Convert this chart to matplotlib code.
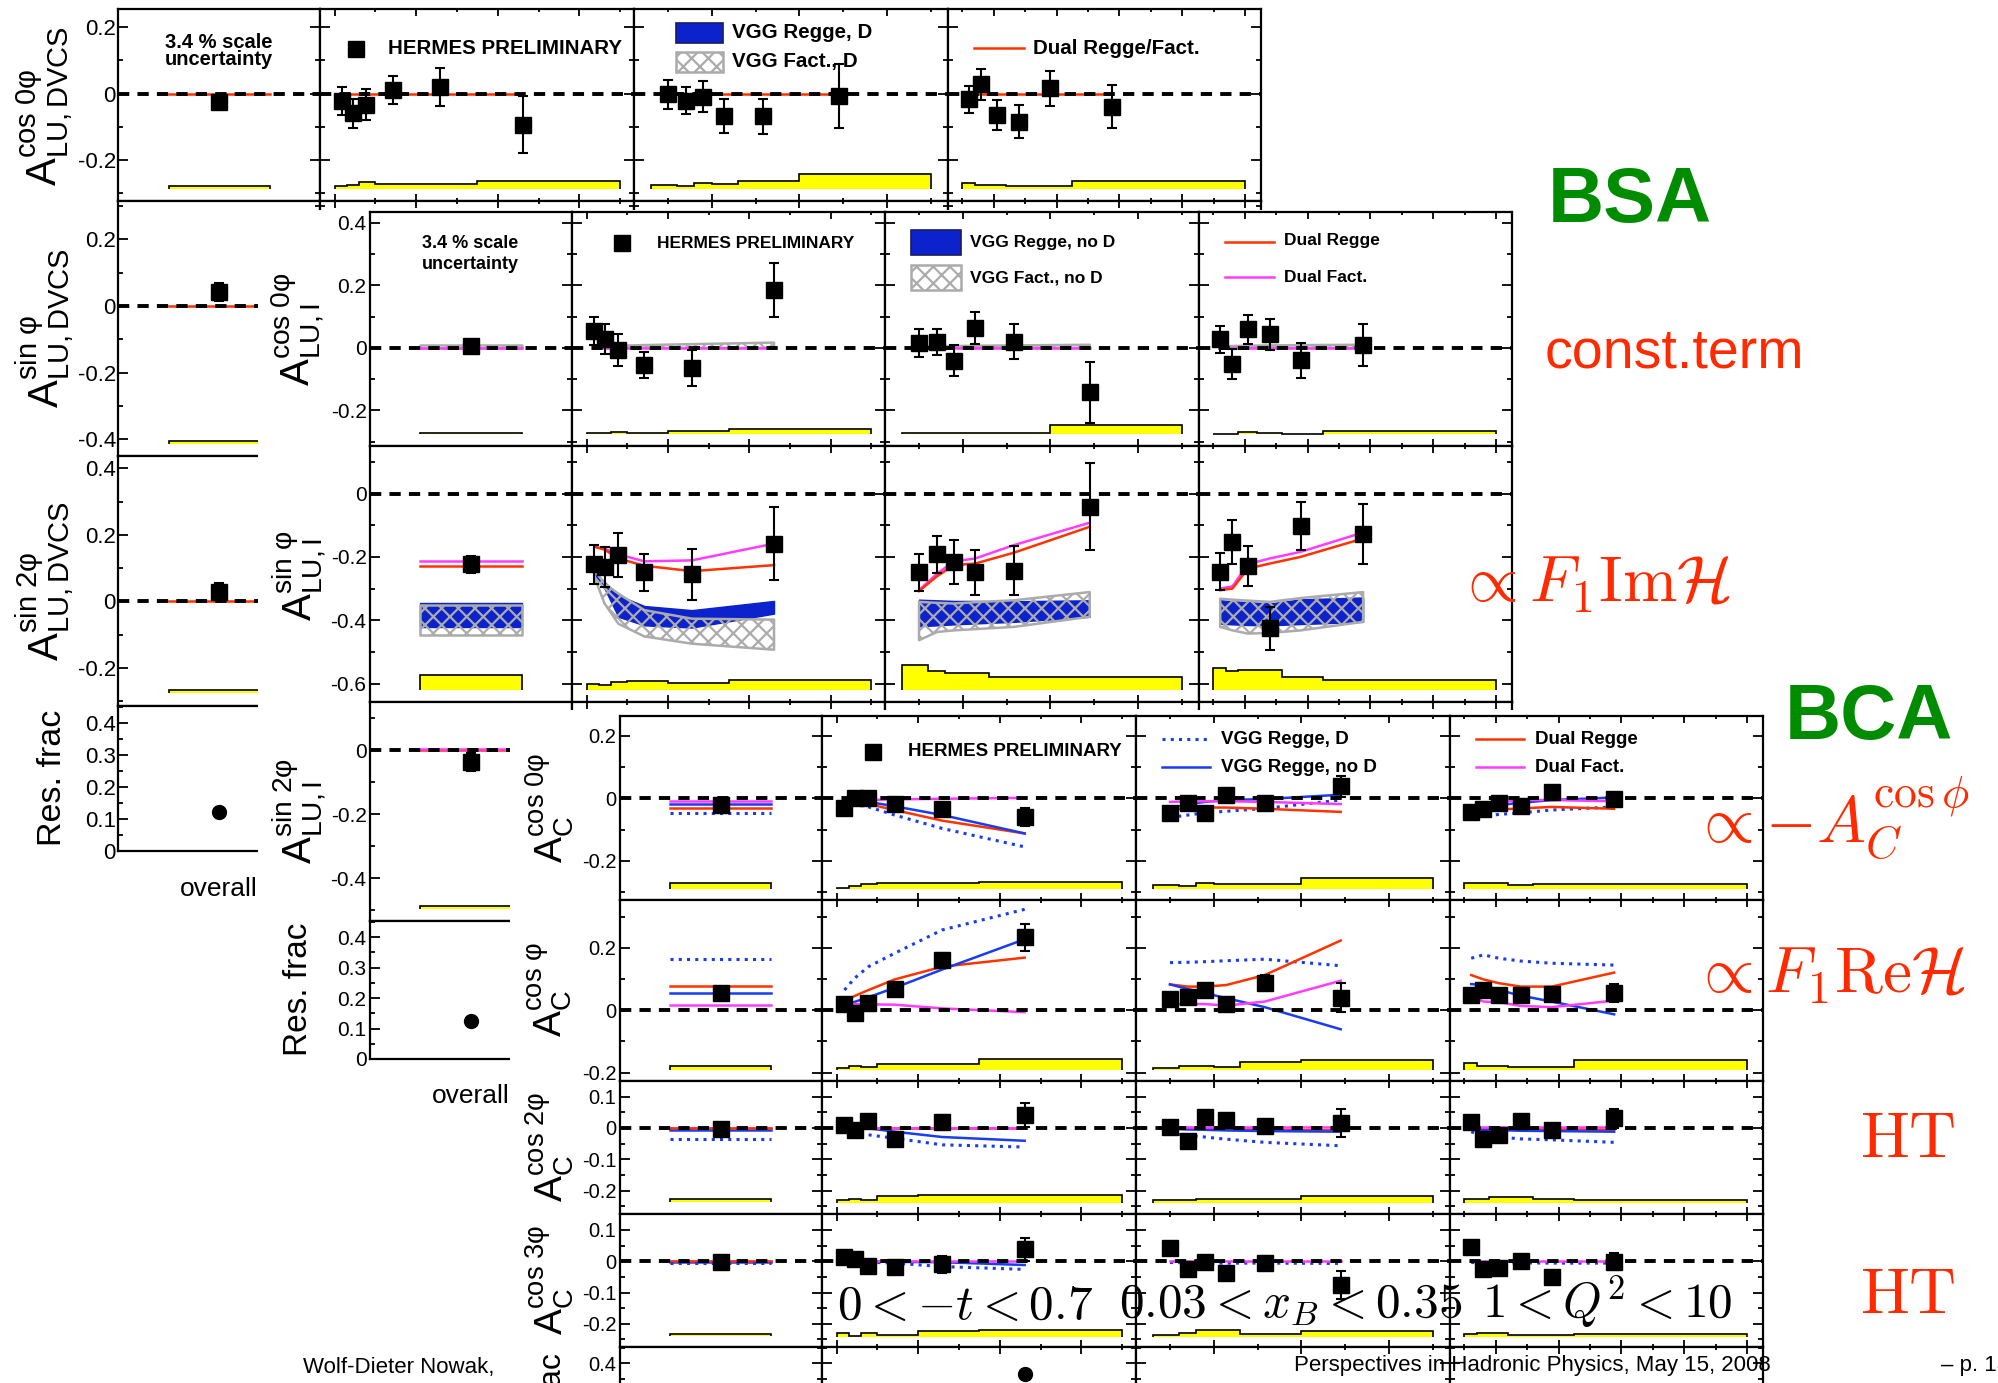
#!/usr/bin/env python3
"""
HERMES DVCS asymmetry amplitudes (BSA: A_LU,DVCS / A_LU,I ; BCA: A_C)
vs -t, x_B, Q^2 with model curves, drawn as three overlapping panel groups.
"""

import matplotlib
matplotlib.use("Agg")
import matplotlib.pyplot as plt
from matplotlib.patches import Rectangle
from matplotlib.lines import Line2D
from matplotlib.ticker import MultipleLocator, FuncFormatter

W, H = 1999, 1383

# ---------------- kinematic binning ----------------
T_EDGES = [0.0, 0.03, 0.06, 0.10, 0.20, 0.35, 0.70]
XB_EDGES = [0.03, 0.06, 0.08, 0.10, 0.13, 0.20, 0.35]
Q2_EDGES = [1.0, 1.4, 1.8, 2.4, 3.2, 4.5, 10.0]
T_X = [0.019, 0.044, 0.078, 0.142, 0.259, 0.461]
XB_X = [0.0497, 0.0703, 0.0897, 0.114, 0.158, 0.245]
Q2_X = [1.22, 1.61, 2.10, 2.80, 3.78, 5.77]

# ---------------- A_LU,DVCS (group 1) ----------------
LUD0_OVR = [-0.024, 0.020]          # value, stat. error
LUD0_OVR_SYS = [-0.286, -0.279]     # band bottom, top
LUD0_OVR_DUAL = -0.001
LUD0_T = [-0.022, -0.059, -0.033, 0.011, 0.019, -0.094]
LUD0_T_ERR = [0.043, 0.044, 0.047, 0.042, 0.057, 0.086]
LUD0_T_SYS = [-0.279, -0.274, -0.267, -0.272, -0.272, -0.264]
LUD0_T_DUAL = [-0.001, -0.001, -0.001, -0.001, -0.001, -0.001]
LUD0_XB = [-0.002, -0.022, -0.009, -0.067, -0.069, -0.007]
LUD0_XB_ERR = [0.044, 0.041, 0.048, 0.051, 0.054, 0.096]
LUD0_XB_SYS = [-0.276, -0.279, -0.268, -0.272, -0.262, -0.241]
LUD0_XB_DUAL = [-0.001, -0.001, -0.001, -0.001, -0.001, -0.001]
LUD0_Q2 = [-0.017, 0.028, -0.064, -0.085, 0.016, -0.040]
LUD0_Q2_ERR = [0.041, 0.046, 0.045, 0.049, 0.053, 0.065]
LUD0_Q2_SYS = [-0.269, -0.274, -0.276, -0.279, -0.279, -0.264]
LUD0_Q2_DUAL = [-0.001, -0.001, -0.001, -0.001, -0.001, -0.001]
LUD0_SYS_BASE = -0.287

LUD1_OVR = [0.042, 0.028]
LUD1_OVR_SYS = [-0.415, -0.405]
LUD1_OVR_DUAL = 0.0
LUD2_OVR = [0.029, 0.026]
LUD2_OVR_SYS = [-0.275, -0.266]
LUD2_OVR_DUAL = 0.0
LUD_RESFRAC = 0.121

# ---------------- A_LU,I (group 2) ----------------
LUI0_OVR = [0.006, 0.018]
LUI0_OVR_SYS = [-0.275, -0.272]
LUI0_OVR_FACT = 0.0
LUI0_OVR_GRAY = [0.0, 0.008]
LUI0_T = [0.054, 0.028, -0.007, -0.055, -0.065, 0.186]
LUI0_T_ERR = [0.046, 0.047, 0.050, 0.042, 0.058, 0.086]
LUI0_T_SYS = [-0.272, -0.271, -0.270, -0.271, -0.266, -0.260]
LUI0_T_FACT = [0.0, 0.0, 0.0, 0.0, 0.0, 0.0]
LUI0_T_GRAY_HI = [0.005, 0.006, 0.007, 0.009, 0.012, 0.017]
LUI0_XB = [0.015, 0.020, -0.041, 0.065, 0.020, -0.142]
LUI0_XB_ERR = [0.044, 0.042, 0.049, 0.051, 0.056, 0.098]
LUI0_XB_SYS = [-0.273, -0.273, -0.272, -0.272, -0.272, -0.248]
LUI0_XB_FACT = [0.0, 0.0, 0.0, 0.0, 0.0, 0.0]
LUI0_XB_GRAY_HI = [0.005, 0.006, 0.006, 0.007, 0.008, 0.010]
LUI0_Q2 = [0.027, -0.051, 0.059, 0.043, -0.040, 0.009]
LUI0_Q2_ERR = [0.042, 0.047, 0.045, 0.051, 0.055, 0.066]
LUI0_Q2_SYS = [-0.276, -0.276, -0.269, -0.273, -0.276, -0.265]
LUI0_Q2_FACT = [0.0, 0.0, 0.0, 0.0, 0.0, 0.0]
LUI0_Q2_GRAY_HI = [0.005, 0.006, 0.007, 0.008, 0.009, 0.010]
LUI0_GRAY_LO = [0.0, 0.0, 0.0, 0.0, 0.0, 0.0]
LUI0_SYS_BASE = -0.276

LUI1_OVR = [-0.224, 0.028]
LUI1_OVR_SYS = [-0.621, -0.573]
LUI1_OVR_FACT = -0.213
LUI1_OVR_REGGE = -0.229
LUI1_OVR_BLUE = [-0.421, -0.347]
LUI1_OVR_GRAY = [-0.446, -0.352]
LUI1_T = [-0.224, -0.232, -0.195, -0.249, -0.255, -0.158]
LUI1_T_ERR = [0.062, 0.063, 0.069, 0.058, 0.081, 0.115]
LUI1_T_SYS = [-0.600, -0.603, -0.595, -0.592, -0.598, -0.587]
LUI1_T_FACT = [-0.168, -0.174, -0.192, -0.214, -0.211, -0.158]
LUI1_T_REGGE = [-0.168, -0.177, -0.205, -0.228, -0.245, -0.226]
LUI1_T_BLUE_HI = [-0.247, -0.279, -0.321, -0.355, -0.368, -0.339]
LUI1_T_BLUE_LO = [-0.253, -0.300, -0.389, -0.416, -0.423, -0.379]
LUI1_T_GRAY_HI = [-0.242, -0.284, -0.316, -0.368, -0.395, -0.398]
LUI1_T_GRAY_LO = [-0.263, -0.347, -0.411, -0.451, -0.474, -0.493]
LUI1_XB = [-0.249, -0.192, -0.216, -0.249, -0.244, -0.042]
LUI1_XB_ERR = [0.059, 0.058, 0.069, 0.071, 0.077, 0.137]
LUI1_XB_SYS = [-0.542, -0.560, -0.568, -0.568, -0.579, -0.579]
LUI1_XB_FACT = [-0.305, -0.253, -0.214, -0.205, -0.163, -0.092]
LUI1_XB_REGGE = [-0.308, -0.261, -0.226, -0.221, -0.187, -0.105]
LUI1_XB_BLUE_HI = [-0.335, -0.337, -0.339, -0.339, -0.340, -0.337]
LUI1_XB_BLUE_LO = [-0.419, -0.416, -0.413, -0.410, -0.405, -0.389]
LUI1_XB_GRAY_HI = [-0.342, -0.345, -0.347, -0.343, -0.337, -0.311]
LUI1_XB_GRAY_LO = [-0.463, -0.437, -0.432, -0.428, -0.421, -0.389]
LUI1_Q2 = [-0.247, -0.153, -0.229, -0.426, -0.103, -0.129]
LUI1_Q2_ERR = [0.059, 0.068, 0.064, 0.069, 0.075, 0.095]
LUI1_Q2_SYS = [-0.550, -0.560, -0.558, -0.556, -0.578, -0.589]
LUI1_Q2_FACT = [-0.300, -0.293, -0.223, -0.205, -0.184, -0.123]
LUI1_Q2_REGGE = [-0.305, -0.300, -0.237, -0.221, -0.200, -0.142]
LUI1_Q2_BLUE_HI = [-0.337, -0.340, -0.343, -0.347, -0.334, -0.328]
LUI1_Q2_BLUE_LO = [-0.411, -0.413, -0.415, -0.416, -0.412, -0.405]
LUI1_Q2_GRAY_HI = [-0.332, -0.335, -0.338, -0.342, -0.330, -0.311]
LUI1_Q2_GRAY_LO = [-0.421, -0.432, -0.442, -0.440, -0.432, -0.405]
LUI1_SYS_BASE = -0.619

LUI2_OVR = [-0.037, 0.027]
LUI2_OVR_SYS = [-0.496, -0.486]
LUI2_OVR_FACT = 0.003
LUI2_OVR_REGGE = 0.0
LUI_RESFRAC = 0.124

# ---------------- A_C (group 3) ----------------
C0_OVR = [-0.021, 0.012]
C0_OVR_SYS = [-0.290, -0.272]
C0_OVR_MODELS = [-0.007, -0.018, -0.032, -0.046]   # fact, vgg no D, regge, vgg D
C0_T = [-0.030, 0.002, 0.003, -0.019, -0.034, -0.059]
C0_T_ERR = [0.014, 0.014, 0.015, 0.014, 0.016, 0.028]
C0_T_SYS = [-0.285, -0.279, -0.275, -0.270, -0.270, -0.266]
C0_T_FACT = [-0.008, -0.006, -0.005, -0.003, -0.001, 0.002]
C0_T_REGGE = [-0.014, -0.009, -0.018, -0.037, -0.071, -0.112]
C0_T_VGGND = [-0.011, -0.005, -0.011, -0.025, -0.053, -0.112]
C0_T_VGGD = [-0.005, -0.011, -0.027, -0.053, -0.096, -0.155]
C0_XB = [-0.045, -0.016, -0.048, 0.011, -0.013, 0.039]
C0_XB_ERR = [0.014, 0.014, 0.015, 0.016, 0.016, 0.033]
C0_XB_SYS = [-0.278, -0.279, -0.272, -0.273, -0.273, -0.256]
C0_XB_FACT = [-0.011, -0.009, -0.009, -0.009, -0.011, -0.018]
C0_XB_REGGE = [-0.037, -0.032, -0.029, -0.029, -0.033, -0.043]
C0_XB_VGGND = [-0.032, -0.018, -0.011, -0.005, -0.002, 0.012]
C0_XB_VGGD = [-0.061, -0.053, -0.046, -0.041, -0.032, -0.005]
C0_Q2 = [-0.043, -0.034, -0.014, -0.025, 0.021, -0.002]
C0_Q2_ERR = [0.014, 0.014, 0.014, 0.015, 0.016, 0.020]
C0_Q2_SYS = [-0.270, -0.270, -0.271, -0.277, -0.275, -0.274]
C0_Q2_FACT = [-0.027, -0.016, -0.011, -0.005, -0.005, -0.009]
C0_Q2_REGGE = [-0.053, -0.043, -0.035, -0.032, -0.027, -0.033]
C0_Q2_VGGND = [-0.046, -0.029, -0.021, -0.014, -0.005, 0.003]
C0_Q2_VGGD = [-0.059, -0.057, -0.051, -0.046, -0.037, -0.027]
C0_SYS_BASE = -0.291

C1_OVR = [0.055, 0.012]
C1_OVR_SYS = [-0.191, -0.178]
C1_OVR_MODELS = [0.017, 0.055, 0.079, 0.166]
C1_T = [0.020, -0.010, 0.022, 0.067, 0.161, 0.234]
C1_T_ERR = [0.015, 0.015, 0.016, 0.017, 0.023, 0.044]
C1_T_SYS = [-0.184, -0.179, -0.181, -0.174, -0.174, -0.156]
C1_T_FACT = [0.020, 0.020, 0.019, 0.018, 0.006, -0.006]
C1_T_REGGE = [0.028, 0.046, 0.065, 0.099, 0.140, 0.169]
C1_T_VGGND = [0.017, 0.027, 0.042, 0.072, 0.131, 0.228]
C1_T_VGGD = [0.065, 0.103, 0.140, 0.183, 0.258, 0.324]
C1_XB = [0.035, 0.044, 0.065, 0.020, 0.089, 0.041]
C1_XB_ERR = [0.015, 0.015, 0.016, 0.017, 0.024, 0.045]
C1_XB_SYS = [-0.184, -0.179, -0.178, -0.181, -0.165, -0.160]
C1_XB_FACT = [0.020, 0.020, 0.020, 0.015, 0.028, 0.095]
C1_XB_REGGE = [0.083, 0.076, 0.076, 0.081, 0.113, 0.224]
C1_XB_VGGND = [0.083, 0.068, 0.055, 0.039, 0.010, -0.061]
C1_XB_VGGD = [0.153, 0.154, 0.156, 0.159, 0.164, 0.143]
C1_Q2 = [0.049, 0.065, 0.049, 0.049, 0.051, 0.055]
C1_Q2_ERR = [0.015, 0.016, 0.016, 0.017, 0.018, 0.030]
C1_Q2_SYS = [-0.169, -0.178, -0.180, -0.181, -0.181, -0.160]
C1_Q2_FACT = [0.044, 0.028, 0.026, 0.014, 0.010, 0.031]
C1_Q2_REGGE = [0.113, 0.099, 0.087, 0.076, 0.076, 0.121]
C1_Q2_VGGND = [0.084, 0.081, 0.065, 0.047, 0.028, -0.013]
C1_Q2_VGGD = [0.167, 0.178, 0.167, 0.158, 0.151, 0.145]
C1_SYS_BASE = -0.191

C2_OVR = [-0.003, 0.012]
C2_OVR_SYS = [-0.238, -0.227]
C2_OVR_MODELS = [0.001, -0.007, 0.0, -0.035]
C2_T = [0.009, -0.006, 0.022, -0.036, 0.020, 0.041]
C2_T_ERR = [0.014, 0.014, 0.016, 0.016, 0.020, 0.038]
C2_T_SYS = [-0.229, -0.227, -0.231, -0.217, -0.215, -0.215]
C2_T_FACT = [0.001, 0.001, 0.001, 0.001, 0.001, 0.001]
C2_T_REGGE = [0.0, 0.0, 0.0, 0.0, 0.0, 0.0]
C2_T_VGGND = [0.001, 0.0, -0.001, -0.012, -0.029, -0.041]
C2_T_VGGD = [-0.005, -0.012, -0.022, -0.033, -0.054, -0.061]
C2_XB = [0.004, -0.043, 0.034, 0.025, 0.006, 0.015]
C2_XB_ERR = [0.015, 0.015, 0.016, 0.017, 0.020, 0.045]
C2_XB_SYS = [-0.229, -0.231, -0.227, -0.227, -0.227, -0.217]
C2_XB_FACT = [0.002, 0.002, 0.002, 0.002, 0.002, 0.002]
C2_XB_REGGE = [0.001, 0.0, -0.002, -0.004, -0.006, -0.008]
C2_XB_VGGND = [-0.003, -0.005, -0.006, -0.008, -0.010, -0.012]
C2_XB_VGGD = [-0.017, -0.024, -0.029, -0.036, -0.046, -0.057]
C2_Q2 = [0.018, -0.036, -0.022, 0.022, -0.008, 0.031]
C2_Q2_ERR = [0.015, 0.016, 0.016, 0.017, 0.018, 0.030]
C2_Q2_SYS = [-0.227, -0.227, -0.222, -0.222, -0.227, -0.229]
C2_Q2_FACT = [0.002, 0.002, 0.002, 0.002, 0.002, 0.002]
C2_Q2_REGGE = [0.0, -0.001, -0.002, -0.003, -0.004, -0.006]
C2_Q2_VGGND = [-0.004, -0.006, -0.007, -0.009, -0.010, -0.012]
C2_Q2_VGGD = [-0.012, -0.025, -0.029, -0.035, -0.038, -0.046]
C2_SYS_BASE = -0.239

C3_OVR = [-0.003, 0.012]
C3_OVR_SYS = [-0.240, -0.232]
C3_OVR_MODELS = [0.001, -0.002, 0.0, -0.006]
C3_T = [0.012, 0.006, -0.015, -0.019, -0.009, 0.038]
C3_T_ERR = [0.014, 0.014, 0.016, 0.016, 0.027, 0.036]
C3_T_SYS = [-0.228, -0.238, -0.230, -0.236, -0.224, -0.219]
C3_T_FACT = [0.001, 0.001, 0.001, 0.001, 0.001, 0.001]
C3_T_VGGND = [0.0, 0.0, -0.001, -0.002, -0.003, -0.012]
C3_T_VGGD = [0.0, -0.001, -0.003, -0.006, -0.017, -0.026]
C3_XB = [0.041, -0.026, -0.001, -0.036, -0.004, -0.076]
C3_XB_ERR = [0.015, 0.015, 0.016, 0.017, 0.020, 0.045]
C3_XB_SYS = [-0.236, -0.230, -0.219, -0.219, -0.232, -0.224]
C3_XB_FACT = [0.001, 0.001, 0.001, 0.001, 0.001, 0.001]
C3_XB_VGGD = [-0.004, -0.005, -0.006, -0.006, -0.006, -0.007]
C3_Q2 = [0.047, -0.026, -0.022, 0.001, -0.049, -0.001]
C3_Q2_ERR = [0.015, 0.016, 0.016, 0.017, 0.018, 0.028]
C3_Q2_SYS = [-0.232, -0.228, -0.228, -0.236, -0.236, -0.232]
C3_Q2_FACT = [0.001, 0.001, 0.001, 0.001, 0.001, 0.001]
C3_Q2_VGGD = [-0.004, -0.005, -0.005, -0.005, -0.006, -0.006]
C3_SYS_BASE = -0.241

C_RESFRAC_LAST_T = 0.366   # only the highest -t bin is visible

# ---------------- styling ----------------
RED = "#ff3300"
MAGENTA = "#ff3cff"
BLUE = "#1a3cf0"
BLUE_BAND = "#0b22cc"
GRAY = "#ababab"
YELLOW = "#ffff00"
TXT_RED = "#ff2a00"
TXT_GREEN = "#008c00"

STYLES = {
    "regge": dict(color=RED, lw=1.8, ls="-"),
    "fact": dict(color=MAGENTA, lw=1.8, ls="-"),
    "vggnd": dict(color=BLUE, lw=1.8, ls="-"),
    "vggd": dict(color=BLUE, lw=2.2, ls=(0, (1.0, 1.7))),
}
OVR_SPAN = (0.25, 0.75)
XAX = {
    "ovr": ((0.0, 1.0), None, None),
    "t": ((-0.036, 0.734), 0.2, 0.1),
    "xb": ((0.0108, 0.370), 0.1, 0.05),
    "q2": ((0.545, 10.51), 2.0, 1.0),
}
XVARS = ["ovr", "t", "xb", "q2"]

plt.rcParams.update({
    "font.family": "Liberation Sans",
    "mathtext.fontset": "custom",
    "mathtext.rm": "Liberation Sans",
    "mathtext.it": "Liberation Sans:italic",
    "mathtext.bf": "Liberation Sans:bold",
    "axes.unicode_minus": False,
    "hatch.linewidth": 1.6,
})

fig = plt.figure(figsize=(W / 100, H / 100), dpi=100)


def fx(x):
    return x / W


def fy(y):
    return 1 - y / H


def fmt(v, _pos):
    return "0" if abs(v) < 1e-9 else f"{v:g}"


def setup(ax, ylim, ytk, xvar, labels, tsize, pad):
    ax.set_ylim(*ylim)
    ax.yaxis.set_major_locator(MultipleLocator(ytk[0]))
    ax.yaxis.set_minor_locator(MultipleLocator(ytk[1]))
    ax.yaxis.set_major_formatter(FuncFormatter(fmt))
    for s in ax.spines.values():
        s.set_linewidth(1.6)
    ax.tick_params(axis="y", which="both", direction="in", left=True, right=True,
                   labelleft=labels, width=1.3, labelsize=tsize, pad=pad)
    ax.tick_params(axis="y", which="major", length=7)
    ax.tick_params(axis="y", which="minor", length=3.5)
    xlim, xmaj, xmin = XAX[xvar]
    ax.set_xlim(*xlim)
    if xmaj is None:
        ax.tick_params(axis="x", which="both", bottom=False, top=False, labelbottom=False)
    else:
        ax.xaxis.set_major_locator(MultipleLocator(xmaj))
        ax.xaxis.set_minor_locator(MultipleLocator(xmin))
        ax.tick_params(axis="x", which="both", direction="in", bottom=True, top=True,
                       labelbottom=False, width=1.3)
        ax.tick_params(axis="x", which="major", length=5)
        ax.tick_params(axis="x", which="minor", length=2.5)


def make_group(cols, rows, ylims, yticks, z, tsize, pad):
    grid = []
    for r in range(len(rows) - 1):
        row = []
        for c in range(4):
            ax = fig.add_axes([fx(cols[c]), fy(rows[r + 1]), (cols[c + 1] - cols[c]) / W,
                               (rows[r + 1] - rows[r]) / H], zorder=z)
            setup(ax, ylims[r], yticks[r], XVARS[c], c == 0, tsize, pad)
            row.append(ax)
        grid.append(row)
    return grid


def band(ax, xs, lo, hi, kind):
    if kind == "blue":
        ax.fill_between(xs, lo, hi, facecolor=BLUE_BAND, edgecolor=BLUE_BAND, lw=1.0, zorder=2.5)
    else:
        ax.fill_between(xs, lo, hi, facecolor="none", edgecolor=GRAY, hatch="xx",
                        lw=1.8, zorder=2.6)


def zero_line(ax):
    ax.axhline(0, color="k", lw=2.8, dashes=(2.9, 2.1), zorder=4)


def draw_binned(ax, xs, edges, vals, errs, sys_tops, sys_base, lines=(), bands=()):
    ax.stairs(sys_tops, edges, baseline=sys_base, fill=True, facecolor=YELLOW,
              edgecolor="k", lw=1.2, zorder=2)
    for lo, hi, kind in bands:
        band(ax, xs, lo, hi, kind)
    for ys, key in lines:
        ax.plot(xs, ys, zorder=3, **STYLES[key])
    zero_line(ax)
    ax.errorbar(xs, vals, yerr=errs, fmt="s", color="k", ms=11, lw=1.5,
                capsize=3.5, capthick=1.5, zorder=6)


def draw_overall(ax, point, sys, lines=(), bands=()):
    a, b = OVR_SPAN
    ax.stairs([sys[1]], [a, b], baseline=sys[0], fill=True, facecolor=YELLOW,
              edgecolor="k", lw=1.2, zorder=2)
    for lo_hi, kind in bands:
        band(ax, [a, b], [lo_hi[0], lo_hi[0]], [lo_hi[1], lo_hi[1]], kind)
    for y, key in lines:
        ax.plot([a, b], [y, y], zorder=3, **STYLES[key])
    zero_line(ax)
    ax.errorbar([0.5], [point[0]], yerr=[point[1]], fmt="s", color="k", ms=11, lw=1.5,
                capsize=3.5, capthick=1.5, zorder=6)


def resfrac(ax, xs, vals):
    ax.plot(xs, vals, "o", color="k", ms=10, zorder=6)


def ylabel(x, y, s, size, z):
    fig.text(fx(x), fy(y), s, rotation=90, ha="center", va="center", fontsize=size, zorder=z)


def legend_line(x0, x1, y, key, z):
    fig.add_artist(Line2D([fx(x0), fx(x1)], [fy(y), fy(y)], transform=fig.transFigure,
                          zorder=z, **STYLES[key]))


def legend_box(x0, x1, y0, y1, kind, z):
    if kind == "blue":
        kw = dict(facecolor=BLUE_BAND, edgecolor="#1a1a60", lw=1.2)
    else:
        kw = dict(facecolor="white", edgecolor=GRAY, hatch="xx", lw=1.8)
    fig.add_artist(Rectangle((fx(x0), fy(y1)), (x1 - x0) / W, (y1 - y0) / H,
                             transform=fig.transFigure, zorder=z, **kw))


def legend_point(x, y, z):
    fig.add_artist(Line2D([fx(x)], [fy(y)], marker="s", ms=11, color="k", ls="none",
                          transform=fig.transFigure, zorder=z))


def legend_text(x, y, s, size, z, ha="left"):
    fig.text(fx(x), fy(y), s, ha=ha, va="center", fontsize=size, fontweight="bold", zorder=z)


def amp(sup, sub):
    return r"$\mathrm{A}^{\mathrm{" + sup + r"}}_{\mathrm{" + sub + r"}}$"


# =================== group 1 : A_LU,DVCS ===================
g1 = make_group([118, 320, 634, 948, 1261], [9, 201, 456, 706, 851],
                [(-0.323, 0.254), (-0.450, 0.315), (-0.314, 0.437), (0.0, 0.452)],
                [(0.2, 0.1), (0.2, 0.1), (0.2, 0.1), (0.1, 0.05)], 1, 16, 1.5)

draw_overall(g1[0][0], LUD0_OVR, LUD0_OVR_SYS, lines=[(LUD0_OVR_DUAL, "regge")])
draw_binned(g1[0][1], T_X, T_EDGES, LUD0_T, LUD0_T_ERR, LUD0_T_SYS, LUD0_SYS_BASE,
            lines=[(LUD0_T_DUAL, "regge")])
draw_binned(g1[0][2], XB_X, XB_EDGES, LUD0_XB, LUD0_XB_ERR, LUD0_XB_SYS, LUD0_SYS_BASE,
            lines=[(LUD0_XB_DUAL, "regge")])
draw_binned(g1[0][3], Q2_X, Q2_EDGES, LUD0_Q2, LUD0_Q2_ERR, LUD0_Q2_SYS, LUD0_SYS_BASE,
            lines=[(LUD0_Q2_DUAL, "regge")])
draw_overall(g1[1][0], LUD1_OVR, LUD1_OVR_SYS, lines=[(LUD1_OVR_DUAL, "regge")])
draw_overall(g1[2][0], LUD2_OVR, LUD2_OVR_SYS, lines=[(LUD2_OVR_DUAL, "regge")])
resfrac(g1[3][0], [0.5], [LUD_RESFRAC])
g1[3][0].text(0.5, -0.26, "overall", transform=g1[3][0].transAxes, ha="center",
              va="center", fontsize=19)

ylabel(44, 106, amp("cos\\ 0φ", "LU,DVCS"), 30, 1.5)
ylabel(45, 328, amp("sin\\ φ", "LU,DVCS"), 30, 1.5)
ylabel(45, 581, amp("sin\\ 2φ", "LU,DVCS"), 30, 1.5)
ylabel(53, 778, "Res. frac", 24.5, 1.5)

fig.text(fx(219), fy(51), "3.4 % scale\nuncertainty", ha="center", va="center",
         fontsize=14.5, fontweight="bold", linespacing=0.85, zorder=1.5)
legend_point(356, 49, 1.5)
legend_text(388, 49, "HERMES PRELIMINARY", 14.8, 1.5)
legend_box(676, 723, 23, 43, "blue", 1.5)
legend_text(732, 33, "VGG Regge, D", 14.8, 1.5)
legend_box(676, 723, 52, 72, "gray", 1.5)
legend_text(732, 62, "VGG Fact., D", 14.8, 1.5)
legend_line(974, 1024, 48, "regge", 1.5)
legend_text(1033, 48, "Dual Regge/Fact.", 14.8, 1.5)

# cover of the second plot layer
fig.add_artist(Rectangle((fx(258), 0), (1525 - 258) / W, 1 - 210 / H,
                         transform=fig.transFigure, facecolor="white", edgecolor="none",
                         zorder=2))

# =================== group 2 : A_LU,I ===================
g2 = make_group([370, 572, 885, 1199, 1512], [212, 446, 702, 921, 1059],
                [(-0.314, 0.435), (-0.658, 0.150), (-0.534, 0.151), (0.0, 0.453)],
                [(0.2, 0.1), (0.2, 0.1), (0.2, 0.1), (0.1, 0.05)], 3, 15, 2.5)

draw_overall(g2[0][0], LUI0_OVR, LUI0_OVR_SYS, lines=[(LUI0_OVR_FACT, "fact")],
             bands=[(LUI0_OVR_GRAY, "gray")])
draw_binned(g2[0][1], T_X, T_EDGES, LUI0_T, LUI0_T_ERR, LUI0_T_SYS, LUI0_SYS_BASE,
            lines=[(LUI0_T_FACT, "fact")], bands=[(LUI0_GRAY_LO, LUI0_T_GRAY_HI, "gray")])
draw_binned(g2[0][2], XB_X, XB_EDGES, LUI0_XB, LUI0_XB_ERR, LUI0_XB_SYS, LUI0_SYS_BASE,
            lines=[(LUI0_XB_FACT, "fact")], bands=[(LUI0_GRAY_LO, LUI0_XB_GRAY_HI, "gray")])
draw_binned(g2[0][3], Q2_X, Q2_EDGES, LUI0_Q2, LUI0_Q2_ERR, LUI0_Q2_SYS, LUI0_SYS_BASE,
            lines=[(LUI0_Q2_FACT, "fact")], bands=[(LUI0_GRAY_LO, LUI0_Q2_GRAY_HI, "gray")])

draw_overall(g2[1][0], LUI1_OVR, LUI1_OVR_SYS,
             lines=[(LUI1_OVR_FACT, "fact"), (LUI1_OVR_REGGE, "regge")],
             bands=[(LUI1_OVR_BLUE, "blue"), (LUI1_OVR_GRAY, "gray")])
draw_binned(g2[1][1], T_X, T_EDGES, LUI1_T, LUI1_T_ERR, LUI1_T_SYS, LUI1_SYS_BASE,
            lines=[(LUI1_T_FACT, "fact"), (LUI1_T_REGGE, "regge")],
            bands=[(LUI1_T_BLUE_LO, LUI1_T_BLUE_HI, "blue"),
                   (LUI1_T_GRAY_LO, LUI1_T_GRAY_HI, "gray")])
draw_binned(g2[1][2], XB_X, XB_EDGES, LUI1_XB, LUI1_XB_ERR, LUI1_XB_SYS, LUI1_SYS_BASE,
            lines=[(LUI1_XB_FACT, "fact"), (LUI1_XB_REGGE, "regge")],
            bands=[(LUI1_XB_BLUE_LO, LUI1_XB_BLUE_HI, "blue"),
                   (LUI1_XB_GRAY_LO, LUI1_XB_GRAY_HI, "gray")])
draw_binned(g2[1][3], Q2_X, Q2_EDGES, LUI1_Q2, LUI1_Q2_ERR, LUI1_Q2_SYS, LUI1_SYS_BASE,
            lines=[(LUI1_Q2_FACT, "fact"), (LUI1_Q2_REGGE, "regge")],
            bands=[(LUI1_Q2_BLUE_LO, LUI1_Q2_BLUE_HI, "blue"),
                   (LUI1_Q2_GRAY_LO, LUI1_Q2_GRAY_HI, "gray")])
draw_overall(g2[2][0], LUI2_OVR, LUI2_OVR_SYS,
             lines=[(LUI2_OVR_REGGE, "regge"), (LUI2_OVR_FACT, "fact")])
resfrac(g2[3][0], [0.5], [LUI_RESFRAC])
g2[3][0].text(0.5, -0.27, "overall", transform=g2[3][0].transAxes, ha="center",
              va="center", fontsize=19)

ylabel(298, 329, amp("cos\\ 0φ", "LU,I"), 29, 3.5)
ylabel(299, 576, amp("sin\\ φ", "LU,I"), 29, 3.5)
ylabel(299, 811, amp("sin\\ 2φ", "LU,I"), 29, 3.5)
ylabel(299, 989, "Res. frac", 24, 3.5)

fig.text(fx(470), fy(254), "3.4 % scale\nuncertainty", ha="center", va="center",
         fontsize=13, fontweight="bold", linespacing=1.35, zorder=3.5)
legend_point(622, 243, 3.5)
legend_text(657, 243, "HERMES PRELIMINARY", 12.5, 3.5)
legend_box(911, 961, 230, 255, "blue", 3.5)
legend_text(970, 242, "VGG Regge, no D", 12.5, 3.5)
legend_box(911, 961, 265, 290, "gray", 3.5)
legend_text(970, 278, "VGG Fact., no D", 12.5, 3.5)
legend_line(1225, 1274, 242, "regge", 3.5)
legend_text(1284, 241, "Dual Regge", 12.5, 3.5)
legend_line(1225, 1274, 277, "fact", 3.5)
legend_text(1284, 278, "Dual Fact.", 12.5, 3.5)

# cover of the third plot layer
fig.add_artist(Rectangle((fx(510), 0), (1775 - 510) / W, 1 - 710 / H,
                         transform=fig.transFigure, facecolor="white", edgecolor="none",
                         zorder=4))

# =================== group 3 : A_C ===================
g3 = make_group([620, 822, 1136, 1450, 1763], [716, 900, 1081, 1214, 1347, 1383],
                [(-0.325, 0.264), (-0.227, 0.354), (-0.275, 0.150), (-0.274, 0.151),
                 (0.337, 0.453)],
                [(0.2, 0.1), (0.2, 0.1), (0.1, 0.05), (0.1, 0.05), (0.1, 0.05)], 5, 14.5, 2.5)
for ax in g3[4]:
    # the res. frac row runs off the bottom of the page
    ax.spines["bottom"].set_visible(False)
    ax.tick_params(axis="x", which="both", bottom=False)

OVR_KEYS = ["fact", "vggnd", "regge", "vggd"]
BCA_ROWS = [
    (C0_OVR, C0_OVR_SYS, C0_OVR_MODELS, C0_SYS_BASE,
     [(C0_T, C0_T_ERR, C0_T_SYS, [C0_T_FACT, C0_T_VGGND, C0_T_REGGE, C0_T_VGGD]),
      (C0_XB, C0_XB_ERR, C0_XB_SYS, [C0_XB_FACT, C0_XB_VGGND, C0_XB_REGGE, C0_XB_VGGD]),
      (C0_Q2, C0_Q2_ERR, C0_Q2_SYS, [C0_Q2_FACT, C0_Q2_VGGND, C0_Q2_REGGE, C0_Q2_VGGD])]),
    (C1_OVR, C1_OVR_SYS, C1_OVR_MODELS, C1_SYS_BASE,
     [(C1_T, C1_T_ERR, C1_T_SYS, [C1_T_FACT, C1_T_VGGND, C1_T_REGGE, C1_T_VGGD]),
      (C1_XB, C1_XB_ERR, C1_XB_SYS, [C1_XB_FACT, C1_XB_VGGND, C1_XB_REGGE, C1_XB_VGGD]),
      (C1_Q2, C1_Q2_ERR, C1_Q2_SYS, [C1_Q2_FACT, C1_Q2_VGGND, C1_Q2_REGGE, C1_Q2_VGGD])]),
    (C2_OVR, C2_OVR_SYS, C2_OVR_MODELS, C2_SYS_BASE,
     [(C2_T, C2_T_ERR, C2_T_SYS, [C2_T_FACT, C2_T_VGGND, C2_T_REGGE, C2_T_VGGD]),
      (C2_XB, C2_XB_ERR, C2_XB_SYS, [C2_XB_FACT, C2_XB_VGGND, C2_XB_REGGE, C2_XB_VGGD]),
      (C2_Q2, C2_Q2_ERR, C2_Q2_SYS, [C2_Q2_FACT, C2_Q2_VGGND, C2_Q2_REGGE, C2_Q2_VGGD])]),
    (C3_OVR, C3_OVR_SYS, C3_OVR_MODELS, C3_SYS_BASE,
     [(C3_T, C3_T_ERR, C3_T_SYS, [C3_T_FACT, C3_T_VGGND, None, C3_T_VGGD]),
      (C3_XB, C3_XB_ERR, C3_XB_SYS, [C3_XB_FACT, None, None, C3_XB_VGGD]),
      (C3_Q2, C3_Q2_ERR, C3_Q2_SYS, [C3_Q2_FACT, None, None, C3_Q2_VGGD])]),
]
BINS = [(T_X, T_EDGES), (XB_X, XB_EDGES), (Q2_X, Q2_EDGES)]

for r, (ovr, ovr_sys, ovr_models, base, cols) in enumerate(BCA_ROWS):
    draw_overall(g3[r][0], ovr, ovr_sys, lines=list(zip(ovr_models, OVR_KEYS)))
    for c, (vals, errs, sys, models) in enumerate(cols):
        xs, edges = BINS[c]
        lines = [(m, k) for m, k in zip(models, OVR_KEYS) if m is not None]
        draw_binned(g3[r][c + 1], xs, edges, vals, errs, sys, base, lines=lines[::-1])
resfrac(g3[4][1], T_X[-1:], [C_RESFRAC_LAST_T])

ylabel(550, 808, amp("cos\\ 0φ", "C"), 28, 5.5)
ylabel(550, 990, amp("cos\\ φ", "C"), 28, 5.5)
ylabel(550, 1147, amp("cos\\ 2φ", "C"), 28, 5.5)
ylabel(550, 1280, amp("cos\\ 3φ", "C"), 28, 5.5)
ylabel(553, 1417, "Res. frac", 23, 5.5)

legend_point(873, 752, 5.5)
legend_text(908, 752, "HERMES PRELIMINARY", 13.5, 5.5)
legend_line(1162, 1210, 739, "vggd", 5.5)
legend_text(1221, 739, "VGG Regge, D", 13.5, 5.5)
legend_line(1162, 1210, 767, "vggnd", 5.5)
legend_text(1221, 767, "VGG Regge, no D", 13.5, 5.5)
legend_line(1476, 1524, 739, "regge", 5.5)
legend_text(1535, 739, "Dual Regge", 13.5, 5.5)
legend_line(1476, 1524, 767, "fact", 5.5)
legend_text(1535, 767, "Dual Fact.", 13.5, 5.5)

# =================== annotations ===================
fig.text(fx(1548), fy(222), "BSA", fontsize=56, fontweight="bold", color=TXT_GREEN,
         ha="left", va="baseline", zorder=10)
fig.text(fx(1785), fy(739), "BCA", fontsize=56, fontweight="bold", color=TXT_GREEN,
         ha="left", va="baseline", zorder=10)
fig.text(fx(1545), fy(368), "const.term", fontsize=40, color=TXT_RED, ha="left",
         va="baseline", zorder=10)
CM = dict(math_fontfamily="cm", color=TXT_RED, ha="left", va="baseline", zorder=10)
fig.text(fx(1456), fy(602), r"$\propto F_1\mathrm{Im}\mathcal{H}$", fontsize=47, **CM)
fig.text(fx(1692), fy(843), r"$\propto {-}A_C^{\cos\phi}$", fontsize=47, **CM)
fig.text(fx(1692), fy(993), r"$\propto F_1\mathrm{Re}\mathcal{H}$", fontsize=47, **CM)
fig.text(fx(1860), fy(1157), r"$\mathrm{HT}$", fontsize=47, **CM)
fig.text(fx(1860), fy(1313), r"$\mathrm{HT}$", fontsize=47, **CM)

RANGE = dict(math_fontfamily="cm", color="k", ha="left", va="baseline", fontsize=35.5,
             zorder=10)
fig.text(fx(837), fy(1319), r"$0 < {-}t < 0.7$", **RANGE)
fig.text(fx(1119), fy(1318), r"$0.03 < x_B < 0.35$", **RANGE)
fig.text(fx(1482), fy(1318), r"$1 < Q^2 < 10$", **RANGE)

fig.text(fx(303), fy(1367), "Wolf-Dieter Nowak,", fontsize=16, ha="left", va="center",
         zorder=10)
fig.text(fx(1294), fy(1366), "Perspectives in Hadronic Physics, May 15, 2008", fontsize=16,
         ha="left", va="center", zorder=10)
fig.text(fx(1941), fy(1366), "– p. 13", fontsize=16, ha="left", va="center", zorder=10)

fig.savefig("out.png", dpi=100)
